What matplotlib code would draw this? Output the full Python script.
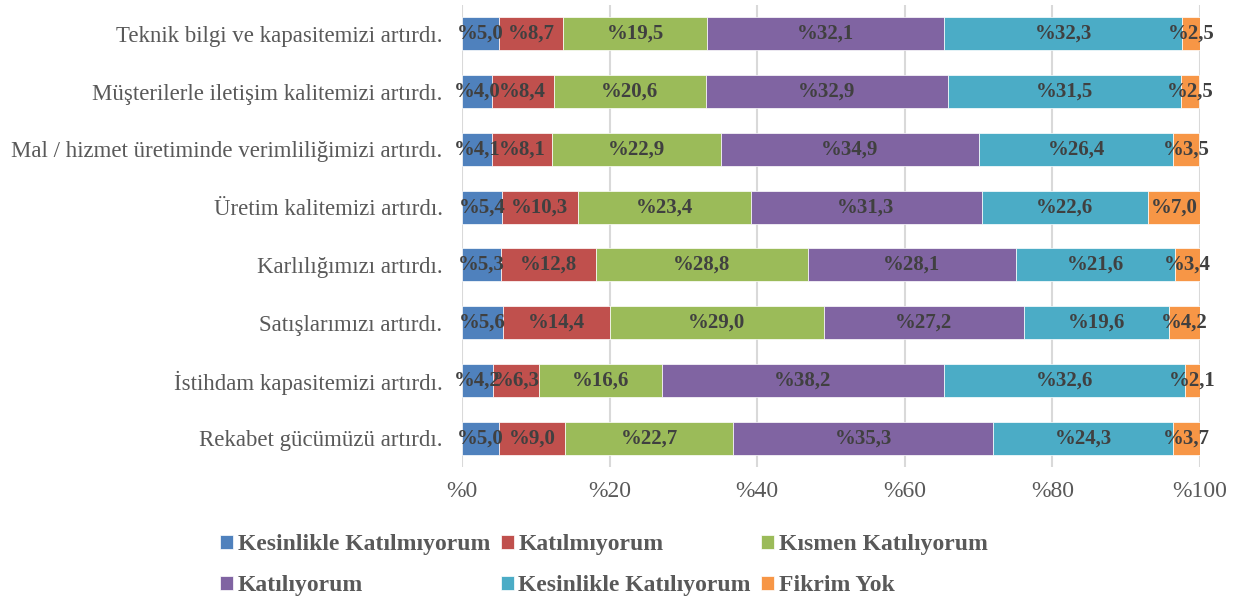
import matplotlib
matplotlib.use("Agg")
import matplotlib.pyplot as plt
import numpy as np

plt.rcParams['font.family'] = ['Liberation Serif', 'DejaVu Serif']

categories = [
    "Teknik bilgi ve kapasitemizi artırdı.",
    "Müşterilerle iletişim kalitemizi artırdı.",
    "Mal / hizmet üretiminde verimliliğimizi artırdı.",
    "Üretim kalitemizi artırdı.",
    "Karlılığımızı artırdı.",
    "Satışlarımızı artırdı.",
    "İstihdam kapasitemizi artırdı.",
    "Rekabet gücümüzü artırdı.",
]
series_names = ["Kesinlikle Katılmıyorum", "Katılmıyorum", "Kısmen Katılıyorum",
                "Katılıyorum", "Kesinlikle Katılıyorum", "Fikrim Yok"]
kesinlikle_katilmiyorum = [5.0, 4.0, 4.1, 5.4, 5.3, 5.6, 4.2, 5.0]
katilmiyorum = [8.7, 8.4, 8.1, 10.3, 12.8, 14.4, 6.3, 9.0]
kismen_katiliyorum = [19.5, 20.6, 22.9, 23.4, 28.8, 29.0, 16.6, 22.7]
katiliyorum = [32.1, 32.9, 34.9, 31.3, 28.1, 27.2, 38.2, 35.3]
kesinlikle_katiliyorum = [32.3, 31.5, 26.4, 22.6, 21.6, 19.6, 32.6, 24.3]
fikrim_yok = [2.5, 2.5, 3.5, 7.0, 3.4, 4.2, 2.1, 3.7]
xticks = [0, 20, 40, 60, 80, 100]
xtick_labels = ["%0", "%20", "%40", "%60", "%80", "%100"]

colors = ["#4F81BD", "#C0504D", "#9BBB59", "#8064A2", "#4BACC6", "#F79646"]
data = [kesinlikle_katilmiyorum, katilmiyorum, kismen_katiliyorum,
        katiliyorum, kesinlikle_katiliyorum, fikrim_yok]

fig = plt.figure(figsize=(12.4, 6.02), dpi=100)
ax = fig.add_axes([462/1240, 1-467/602, (1200-462)/1240, 462/602])

y = np.arange(len(categories))
left = np.zeros(len(categories))
handles = []
for name, vals, c in zip(series_names, data, colors):
    vals = np.array(vals)
    bars = ax.barh(y, vals, left=left, height=0.57, color=c, label=name,
                   edgecolor='white', linewidth=0.5, zorder=3)
    handles.append(bars)
    for yi, l, v in zip(y, left, vals):
        ax.text(l + v/2, yi, "%" + f"{v:.1f}".replace('.', ','),
                ha='center', va='center', fontsize=15, fontweight='bold',
                color='#404040', zorder=4)
    left += vals

ax.set_xlim(0, 100)
ax.set_ylim(len(categories) - 0.5, -0.5)
ax.set_yticks(y)
ax.set_yticklabels(categories, fontsize=16.5, color='#595959')
ax.set_xticks(xticks)
ax.set_xticklabels(xtick_labels, fontsize=17, color='#595959')
ax.tick_params(axis='x', length=0, pad=10)
ax.tick_params(axis='y', length=0, pad=14)
ax.grid(axis='x', color='#D9D9D9', linewidth=1.5, zorder=0)
for s in ax.spines.values():
    s.set_visible(False)

order = [0, 3, 1, 4, 2, 5]
leg = fig.legend([handles[i] for i in order], [series_names[i] for i in order],
                 ncol=3, loc='center', bbox_to_anchor=(604/1240, 1-565/602),
                 frameon=False, prop={'size': 17, 'weight': 'bold'},
                 handlelength=0.55, handleheight=0.55, handletextpad=0.2,
                 columnspacing=0.45, labelspacing=0.85)
for t in leg.get_texts():
    t.set_color('#595959')

fig.savefig("out.png", dpi=100)
